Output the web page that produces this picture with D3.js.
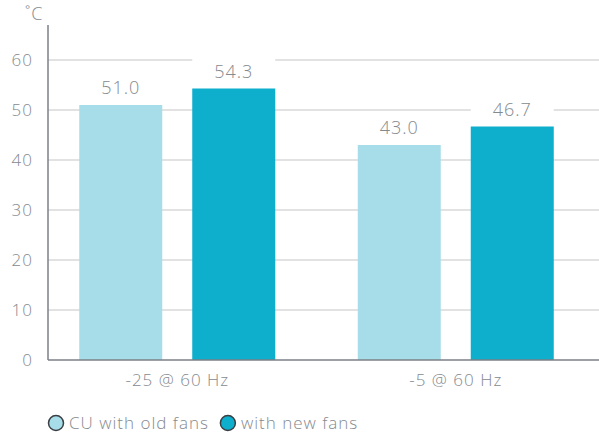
<!DOCTYPE html>
<html>
  <head>
    <meta charset="utf-8" />
    <title>CU fans temperature</title>
    <script src="https://d3js.org/d3.v7.min.js"></script>
    <style>
      body { margin: 0; background: #fff; }
      text { font-family: "Open Sans", "Lato", sans-serif; font-weight: 300; fill: #858a8f; letter-spacing: 1px; }
    </style>
  </head>
  <body>
    <svg width="599" height="436"></svg>
    <script>
      var categories = ["-25 @ 60 Hz", "-5 @ 60 Hz"];
      var series = ["CU with old fans", "with new fans"];
      var oldFans = [51.0, 43.0];
      var newFans = [54.3, 46.7];
      var yTicks = [0, 10, 20, 30, 40, 50, 60];
      var colors = ["#a6dde9", "#0eaecd"];

      var svg = d3.select("svg"),
        width = +svg.attr("width");

      var axisX = 48;

      var y = d3.scaleLinear().domain([0, 67]).range([360, 25]);

      var x0 = d3.scaleBand().domain(categories).range([38, 595]);
      var x1 = d3
        .scaleBand()
        .domain(series)
        .range([(x0.bandwidth() - 196) / 2, (x0.bandwidth() + 196) / 2])
        .paddingInner(0.2655);

      var rows = [];
      categories.forEach(function (c, i) {
        rows.push({ cat: c, s: series[0], v: oldFans[i], color: colors[0] });
        rows.push({ cat: c, s: series[1], v: newFans[i], color: colors[1] });
      });

      // gridlines
      svg
        .selectAll(".grid")
        .data(yTicks.filter((d) => d > 0))
        .enter()
        .append("line")
        .attr("x1", axisX)
        .attr("x2", width)
        .attr("y1", (d) => y(d))
        .attr("y2", (d) => y(d))
        .attr("stroke", "#d9d9d9")
        .attr("stroke-width", 1.5);

      // tick labels
      svg
        .selectAll(".tick")
        .data(yTicks)
        .enter()
        .append("text")
        .attr("x", 33)
        .attr("y", (d) => y(d))
        .attr("dy", "0.35em")
        .attr("text-anchor", "end")
        .style("font-size", "17px")
        .text((d) => d);

      svg
        .append("text")
        .attr("x", 25)
        .attr("y", 20)
        .style("font-size", "18px")
        .text("˚C");

      // bars
      svg
        .selectAll(".bar")
        .data(rows)
        .enter()
        .append("rect")
        .attr("x", (d) => x0(d.cat) + x1(d.s))
        .attr("y", (d) => y(d.v))
        .attr("width", x1.bandwidth())
        .attr("height", (d) => y(0) - y(d.v))
        .attr("fill", (d) => d.color);

      // value labels with white backing
      var lab = svg.selectAll(".lab").data(rows).enter().append("g");
      lab
        .append("rect")
        .attr("x", (d) => x0(d.cat) + x1(d.s))
        .attr("y", (d) => y(d.v) - 11 - 19.5)
        .attr("width", x1.bandwidth())
        .attr("height", 26)
        .attr("fill", "#fff");
      lab
        .append("text")
        .attr("x", (d) => x0(d.cat) + x1(d.s) + x1.bandwidth() / 2)
        .attr("y", (d) => y(d.v) - 11)
        .attr("text-anchor", "middle")
        .style("font-size", "18px")
        .text((d) => d.v.toFixed(1));

      // axes lines
      svg
        .append("line")
        .attr("x1", axisX)
        .attr("x2", axisX)
        .attr("y1", 25)
        .attr("y2", y(0))
        .attr("stroke", "#7b7f84")
        .attr("stroke-width", 1.5);
      svg
        .append("line")
        .attr("x1", axisX)
        .attr("x2", width)
        .attr("y1", y(0))
        .attr("y2", y(0))
        .attr("stroke", "#7b7f84")
        .attr("stroke-width", 1.5);

      // category labels
      svg
        .selectAll(".cat")
        .data(categories)
        .enter()
        .append("text")
        .attr("x", (d) => x0(d) + x0.bandwidth() / 2)
        .attr("y", 386)
        .attr("text-anchor", "middle")
        .style("font-size", "17px")
        .text((d) => d);

      // legend
      var lx = 48;
      series.forEach(function (s, i) {
        svg
          .append("circle")
          .attr("cx", lx + 8)
          .attr("cy", 423)
          .attr("r", 7.5)
          .attr("fill", colors[i])
          .attr("stroke", "#3a3f44")
          .attr("stroke-width", 1.5);
        var t = svg
          .append("text")
          .attr("x", lx + 21)
          .attr("y", 429)
          .style("font-size", "17px")
          .text(s);
        lx = lx + 21 + t.node().getComputedTextLength() + 11;
      });
    </script>
  </body>
</html>
